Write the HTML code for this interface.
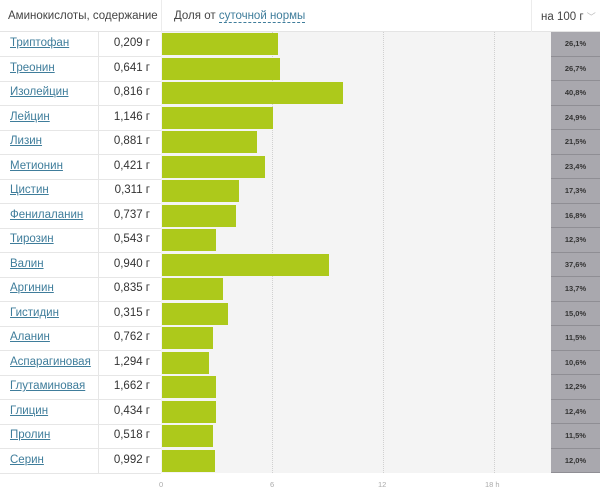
<!DOCTYPE html>
<html><head><meta charset="utf-8"><style>
body{margin:0;width:600px;height:492px;background:#fff;font-family:"Liberation Sans","DejaVu Sans",sans-serif;position:relative;overflow:hidden}
div{position:absolute;box-sizing:border-box}
.r{left:0;width:600px;height:24.5px}
.n{left:10px;top:5px;font-size:11.5px;color:#3f7d9b;text-decoration:underline}
.v{left:98px;width:52px;top:5px;font-size:11.5px;color:#333;text-align:right}
.ln{left:0;width:161px;height:1px;background:#e6e6e6}
.b{left:162px;height:22px;background:#adc91b}
.p{left:551px;width:49px;height:24.5px;background:#a9a8ae;border-bottom:1px solid #8f8e94;font-size:7.5px;font-weight:bold;color:#333;text-align:center;line-height:24px}
.g{top:32px;height:441px;width:0;border-left:1px dotted #d0d0d0}
.t{top:480px;font-size:7.5px;color:#aaa}
</style></head><body>
<div style="left:0;top:0;width:600px;height:32px;border-bottom:1px solid #e4e4e4"></div>
<div style="left:8px;top:10px;font-size:11.5px;color:#444">Аминокислоты, содержание</div>
<div style="left:161px;top:0;width:1px;height:32px;background:#ececec"></div>
<div style="left:174px;top:10px;font-size:11.5px;color:#444">Доля от <span style="color:#3f7d9b;border-bottom:1px dashed #3f7d9b">суточной нормы</span></div>
<div style="left:531px;top:0;width:1px;height:32px;background:#ececec"></div>
<div style="left:541px;top:10px;font-size:11.5px;color:#444">на 100 г <span style="color:#bbb;font-size:9px">﹀</span></div>
<div style="left:161px;top:32px;width:390px;height:441px;background:#f4f4f4"></div>
<div style="left:98px;top:32px;width:1px;height:441px;background:#e6e6e6"></div>
<div class="g" style="left:272px"></div><div class="g" style="left:383px"></div><div class="g" style="left:494px"></div>
<div class="t" style="left:159px">0</div><div class="t" style="left:270px">6</div><div class="t" style="left:378px">12</div><div class="t" style="left:485px">18 h</div>

<div class="r" style="top:32px"><div class="n">Триптофан</div><div class="v">0,209 г</div></div><div class="b" style="top:33px;width:116px"></div><div class="p" style="top:32px">26,1%</div><div class="ln" style="top:56px"></div>
<div class="r" style="top:56.5px"><div class="n">Треонин</div><div class="v">0,641 г</div></div><div class="b" style="top:57.5px;width:118px"></div><div class="p" style="top:56.5px">26,7%</div><div class="ln" style="top:80.5px"></div>
<div class="r" style="top:81px"><div class="n">Изолейцин</div><div class="v">0,816 г</div></div><div class="b" style="top:82px;width:181px"></div><div class="p" style="top:81px">40,8%</div><div class="ln" style="top:105px"></div>
<div class="r" style="top:105.5px"><div class="n">Лейцин</div><div class="v">1,146 г</div></div><div class="b" style="top:106.5px;width:111px"></div><div class="p" style="top:105.5px">24,9%</div><div class="ln" style="top:129.5px"></div>
<div class="r" style="top:130px"><div class="n">Лизин</div><div class="v">0,881 г</div></div><div class="b" style="top:131px;width:95px"></div><div class="p" style="top:130px">21,5%</div><div class="ln" style="top:154px"></div>
<div class="r" style="top:154.5px"><div class="n">Метионин</div><div class="v">0,421 г</div></div><div class="b" style="top:155.5px;width:103px"></div><div class="p" style="top:154.5px">23,4%</div><div class="ln" style="top:178.5px"></div>
<div class="r" style="top:179px"><div class="n">Цистин</div><div class="v">0,311 г</div></div><div class="b" style="top:180px;width:77px"></div><div class="p" style="top:179px">17,3%</div><div class="ln" style="top:203px"></div>
<div class="r" style="top:203.5px"><div class="n">Фенилаланин</div><div class="v">0,737 г</div></div><div class="b" style="top:204.5px;width:74px"></div><div class="p" style="top:203.5px">16,8%</div><div class="ln" style="top:227.5px"></div>
<div class="r" style="top:228px"><div class="n">Тирозин</div><div class="v">0,543 г</div></div><div class="b" style="top:229px;width:54px"></div><div class="p" style="top:228px">12,3%</div><div class="ln" style="top:252px"></div>
<div class="r" style="top:252.5px"><div class="n">Валин</div><div class="v">0,940 г</div></div><div class="b" style="top:253.5px;width:167px"></div><div class="p" style="top:252.5px">37,6%</div><div class="ln" style="top:276.5px"></div>
<div class="r" style="top:277px"><div class="n">Аргинин</div><div class="v">0,835 г</div></div><div class="b" style="top:278px;width:61px"></div><div class="p" style="top:277px">13,7%</div><div class="ln" style="top:301px"></div>
<div class="r" style="top:301.5px"><div class="n">Гистидин</div><div class="v">0,315 г</div></div><div class="b" style="top:302.5px;width:66px"></div><div class="p" style="top:301.5px">15,0%</div><div class="ln" style="top:325.5px"></div>
<div class="r" style="top:326px"><div class="n">Аланин</div><div class="v">0,762 г</div></div><div class="b" style="top:327px;width:51px"></div><div class="p" style="top:326px">11,5%</div><div class="ln" style="top:350px"></div>
<div class="r" style="top:350.5px"><div class="n">Аспарагиновая</div><div class="v">1,294 г</div></div><div class="b" style="top:351.5px;width:47px"></div><div class="p" style="top:350.5px">10,6%</div><div class="ln" style="top:374.5px"></div>
<div class="r" style="top:375px"><div class="n">Глутаминовая</div><div class="v">1,662 г</div></div><div class="b" style="top:376px;width:54px"></div><div class="p" style="top:375px">12,2%</div><div class="ln" style="top:399px"></div>
<div class="r" style="top:399.5px"><div class="n">Глицин</div><div class="v">0,434 г</div></div><div class="b" style="top:400.5px;width:54px"></div><div class="p" style="top:399.5px">12,4%</div><div class="ln" style="top:423.5px"></div>
<div class="r" style="top:424px"><div class="n">Пролин</div><div class="v">0,518 г</div></div><div class="b" style="top:425px;width:51px"></div><div class="p" style="top:424px">11,5%</div><div class="ln" style="top:448px"></div>
<div class="r" style="top:448.5px"><div class="n">Серин</div><div class="v">0,992 г</div></div><div class="b" style="top:449.5px;width:53px"></div><div class="p" style="top:448.5px">12,0%</div><div class="ln" style="top:472.5px"></div>
</body></html>
